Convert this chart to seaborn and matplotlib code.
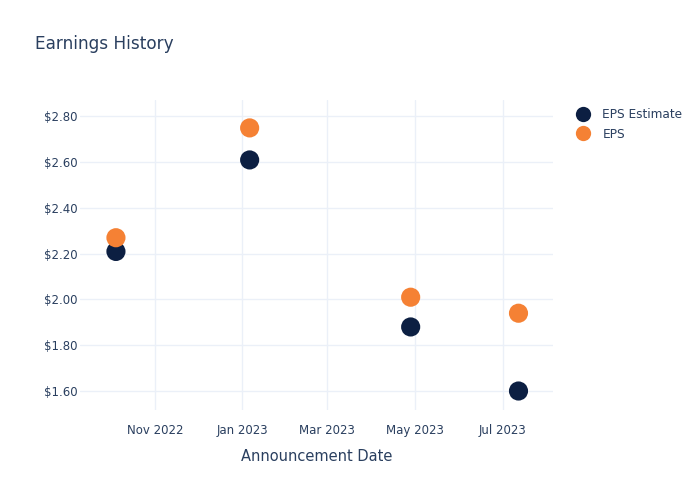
import matplotlib
matplotlib.use("Agg")
import matplotlib.pyplot as plt
import matplotlib.dates as mdates
import seaborn as sns
import pandas as pd
from matplotlib.lines import Line2D

dates = ["2022-10-05", "2023-01-06", "2023-04-28", "2023-07-12"]
eps_estimate = [2.21, 2.61, 1.88, 1.60]
eps_actual = [2.27, 2.75, 2.01, 1.94]
series_names = ["EPS Estimate", "EPS"]
tick_dates = ["2022-11-01", "2023-01-01", "2023-03-01", "2023-05-01", "2023-07-01"]
y_ticks = [1.60, 1.80, 2.00, 2.20, 2.40, 2.60, 2.80]

df = pd.DataFrame({
    "date": pd.to_datetime(dates * 2),
    "value": eps_estimate + eps_actual,
    "series": [series_names[0]] * len(dates) + [series_names[1]] * len(dates),
})

sns.set_theme(style="white")
plt.rcParams['font.family'] = ['DejaVu Sans']
text_color = "#2a3f5f"
grid_color = "#ebf0f8"
colors = {"EPS Estimate": "#0c1f42", "EPS": "#f58134"}

W, H = 700, 500
fig = plt.figure(figsize=(7, 5), dpi=100)
left, right, top, bottom = 80, 553, 100, 410
ax = fig.add_axes([left / W, 1 - bottom / H, (right - left) / W, (bottom - top) / H])

sns.scatterplot(data=df, x="date", y="value", hue="series", palette=colors,
                s=190, edgecolor="none", ax=ax, legend=False, zorder=3)

ax.set_xlim(pd.Timestamp("2022-09-10"), pd.Timestamp("2023-08-05"))
ax.set_ylim(1.517, 2.872)
ax.set_xticks(pd.to_datetime(tick_dates))
ax.xaxis.set_major_formatter(mdates.DateFormatter("%b %Y"))
ax.set_yticks(y_ticks)
ax.set_yticklabels([f"${v:.2f}" for v in y_ticks])
ax.grid(True, color=grid_color, linewidth=1)
ax.set_axisbelow(True)
for s in ax.spines.values():
    s.set_visible(False)
ax.tick_params(axis="y", length=0, labelsize=8.5, colors=text_color, pad=2)
ax.tick_params(axis="x", length=0, labelsize=8.5, colors=text_color, pad=10)
ax.set_xlabel("Announcement Date", fontsize=10.5, color=text_color, labelpad=9)
ax.set_ylabel("")

fig.text(35 / W, 1 - 44 / H, "Earnings History", fontsize=12.2, color=text_color,
         va="center", ha="left")

handles = [Line2D([], [], marker="o", linestyle="none", markersize=11,
                  markerfacecolor=colors[n], markeredgecolor="none") for n in series_names]
leg = fig.legend(handles, series_names, loc="upper left", bbox_to_anchor=(571 / W, 1 - 108 / H),
                 frameon=False, fontsize=8.7, labelcolor=text_color, handletextpad=0.6,
                 labelspacing=0.55, handlelength=2.0, borderaxespad=0, borderpad=0)

fig.savefig("out.png", dpi=100, facecolor="white")
